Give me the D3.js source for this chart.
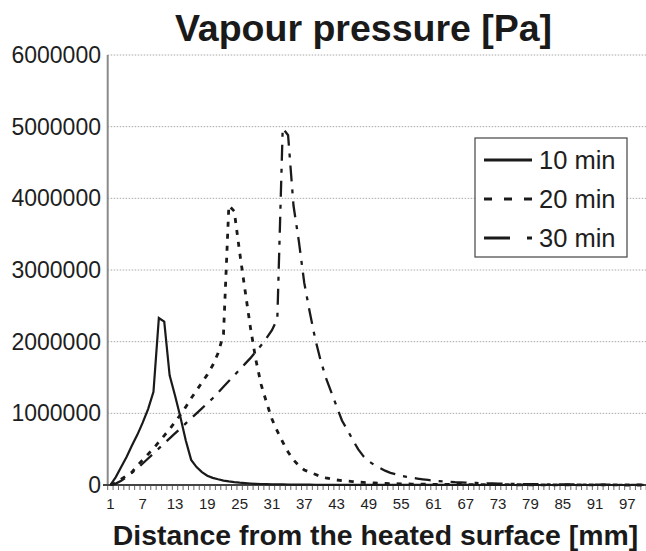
<!DOCTYPE html>
<html>
<head>
<meta charset="utf-8">
<script src="https://d3js.org/d3.v7.min.js"></script>
<style>
  html, body { margin: 0; padding: 0; background: #fff; }
  svg { display: block; font-family: "Liberation Sans", Arial, sans-serif; }
</style>
</head>
<body>
<script>
  // distance categories 1..100 mm
  var distances = d3.range(1, 101);
  var tickLabels = [1, 7, 13, 19, 25, 31, 37, 43, 49, 55, 61, 67, 73, 79, 85, 91, 97];
  var yTicks = [0, 1000000, 2000000, 3000000, 4000000, 5000000, 6000000];
  var seriesNames = ['10 min', '20 min', '30 min'];

  //10 min
  var min10 = [
    0, 110000, 250000, 390000, 550000, 700000, 870000, 1060000, 1300000, 2330000,
    2280000, 1530000, 1250000, 950000, 620000, 350000, 250000, 180000, 130000, 100000,
    80000, 62000, 50000, 40000, 32000, 26000, 21000, 17000, 14000, 12000,
    10000, 9000, 8000, 7000, 6000, 5000, 4500, 4000, 3500, 3000,
    2800, 2600, 2400, 2200, 2000, 1800, 1600, 1500, 1400, 1300,
    1200, 1100, 1000, 1000, 900, 900, 800, 800, 700, 700,
    600, 600, 500, 500, 500, 400, 400, 400, 300, 300,
    300, 300, 200, 200, 200, 200, 200, 100, 100, 100,
    100, 100, 100, 100, 100, 0, 0, 0, 0, 0,
    0, 0, 0, 0, 0, 0, 0, 0, 0, 0
  ];
  //20 min
  var min20 = [
    0, 30000, 80000, 130000, 180000, 270000, 350000, 430000, 510000, 600000,
    690000, 780000, 880000, 980000, 1090000, 1210000, 1320000, 1430000, 1540000, 1670000,
    1840000, 2100000, 3900000, 3820000, 3250000, 2720000, 2200000, 1750000, 1400000, 1150000,
    920000, 750000, 600000, 460000, 350000, 270000, 210000, 180000, 150000, 120000,
    100000, 85000, 70000, 62000, 55000, 48000, 40000, 36000, 32000, 28000,
    25000, 22000, 20000, 18000, 16000, 15000, 13000, 12000, 11000, 10000,
    9500, 9000, 8500, 8000, 7500, 7000, 6500, 6000, 5500, 5000,
    4800, 4600, 4400, 4200, 4000, 3800, 3600, 3400, 3200, 3000,
    2800, 2600, 2400, 2200, 2000, 1800, 1600, 1400, 1200, 1000,
    900, 800, 700, 600, 500, 400, 300, 200, 100, 0
  ];
  //30 min
  var min30 = [
    0, 20000, 60000, 110000, 170000, 230000, 300000, 370000, 440000, 510000,
    580000, 650000, 720000, 790000, 860000, 930000, 1000000, 1070000, 1140000, 1210000,
    1290000, 1370000, 1450000, 1530000, 1610000, 1690000, 1770000, 1860000, 1950000, 2050000,
    2160000, 2320000, 4980000, 4880000, 3900000, 3400000, 2820000, 2420000, 2050000, 1750000,
    1500000, 1300000, 1100000, 900000, 770000, 630000, 500000, 400000, 330000, 280000,
    240000, 200000, 170000, 150000, 130000, 115000, 100000, 90000, 80000, 70000,
    60000, 55000, 50000, 45000, 40000, 37000, 34000, 31000, 28000, 26000,
    24000, 22000, 20000, 18000, 16000, 15000, 14000, 13000, 12000, 11000,
    10000, 9500, 9000, 8500, 8000, 7500, 7000, 6500, 6000, 5500,
    5000, 4500, 4000, 3500, 3000, 2500, 2000, 1500, 1000, 500
  ];

  var drawChart = function () {
    var width = 646, height = 551,
      plotL = 107.7, plotR = 646.2, plotT = 55, plotB = 485;

    var svg = d3.select('body')
      .append('svg')
      .attr('width', width)
      .attr('height', height);

    var x = d3.scaleBand()
      .domain(distances)
      .range([plotL, plotR])
      .padding(0);

    var y = d3.scaleLinear()
      .domain([0, 6000000])
      .range([plotB, plotT]);

    var cx = function (d) { return x(d) + x.bandwidth() / 2; };

    // dotted gridlines
    svg.append('g')
      .selectAll('line')
      .data(yTicks.slice(1))
      .enter()
      .append('line')
      .attr('x1', plotL)
      .attr('x2', width)
      .attr('y1', function (d) { return y(d); })
      .attr('y2', function (d) { return y(d); })
      .attr('stroke', '#a8a8a8')
      .attr('stroke-width', 1)
      .attr('stroke-dasharray', '1.5,1.5');

    // y labels
    svg.append('g')
      .selectAll('text')
      .data(yTicks)
      .enter()
      .append('text')
      .attr('x', 101)
      .attr('y', function (d) { return y(d) + 8; })
      .attr('text-anchor', 'end')
      .attr('font-size', 23)
      .attr('fill', '#1e1e1e')
      .text(function (d) { return d; });

    // y axis
    svg.append('line')
      .attr('x1', plotL).attr('x2', plotL)
      .attr('y1', plotT).attr('y2', plotB)
      .attr('stroke', '#8a8a8a')
      .attr('stroke-width', 2);

    // x axis, labels every 6th category
    var xAxis = d3.axisBottom(x)
      .tickValues(tickLabels)
      .tickSize(0)
      .tickPadding(13);

    var gx = svg.append('g')
      .attr('transform', 'translate(0,' + plotB + ')')
      .call(xAxis);
    gx.select('.domain').remove();
    gx.selectAll('text')
      .attr('font-family', '"Liberation Sans", Arial, sans-serif')
      .attr('font-size', 15)
      .attr('fill', '#1e1e1e');

    // ticks between categories
    svg.append('g')
      .selectAll('line')
      .data(distances.concat([101]))
      .enter()
      .append('line')
      .attr('x1', function (d, i) { return plotL + i * x.bandwidth(); })
      .attr('x2', function (d, i) { return plotL + i * x.bandwidth(); })
      .attr('y1', plotB)
      .attr('y2', plotB + 5)
      .attr('stroke', '#666')
      .attr('stroke-width', 1);

    svg.append('line')
      .attr('x1', 103).attr('x2', width)
      .attr('y1', plotB).attr('y2', plotB)
      .attr('stroke', '#444')
      .attr('stroke-width', 2);

    // series lines
    var styles = [
      {data: min10, dash: null, w: 2.2, legendDash: null},
      {data: min20, dash: '5,7', w: 2.8, legendDash: '8,12'},
      {data: min30, dash: '16,8,4,8', w: 2.3, legendDash: '26,17,5,17'}
    ];

    var line = d3.line()
      .x(function (d, i) { return cx(distances[i]); })
      .y(function (d) { return y(d); });

    svg.append('g')
      .selectAll('path')
      .data(styles)
      .enter()
      .append('path')
      .attr('d', function (d) { return line(d.data); })
      .attr('fill', 'none')
      .attr('stroke', '#1a1a1a')
      .attr('stroke-width', function (d) { return d.w; })
      .attr('stroke-dasharray', function (d) { return d.dash; })
      .attr('stroke-linejoin', 'miter');

    // legend
    var legend = svg.append('g');
    legend.append('rect')
      .attr('x', 475).attr('y', 138)
      .attr('width', 152).attr('height', 119)
      .attr('fill', '#fff')
      .attr('stroke', '#444')
      .attr('stroke-width', 1.2);

    var items = legend.selectAll('g.item')
      .data(styles)
      .enter()
      .append('g')
      .attr('class', 'item')
      .attr('transform', function (d, i) { return 'translate(0,' + (160 + i * 39) + ')'; });

    items.append('line')
      .attr('x1', 484).attr('x2', 532)
      .attr('y1', 0).attr('y2', 0)
      .attr('stroke', '#1a1a1a')
      .attr('stroke-width', 3.2)
      .attr('stroke-dasharray', function (d) { return d.legendDash; });

    items.append('text')
      .attr('x', 539)
      .attr('y', 8.5)
      .attr('font-size', 25.5)
      .attr('fill', '#1e1e1e')
      .text(function (d, i) { return seriesNames[i]; });

    // title and axis label
    svg.append('text')
      .attr('x', 363.5)
      .attr('y', 41)
      .attr('text-anchor', 'middle')
      .attr('font-size', 37.5)
      .attr('font-weight', 'bold')
      .attr('fill', '#1a1a1a')
      .text('Vapour pressure [Pa]');

    svg.append('text')
      .attr('x', 375.5)
      .attr('y', 545)
      .attr('text-anchor', 'middle')
      .attr('font-size', 28.4)
      .attr('font-weight', 'bold')
      .attr('fill', '#1a1a1a')
      .text('Distance from the heated surface [mm]');
  };

  drawChart();
</script>
</body>
</html>
